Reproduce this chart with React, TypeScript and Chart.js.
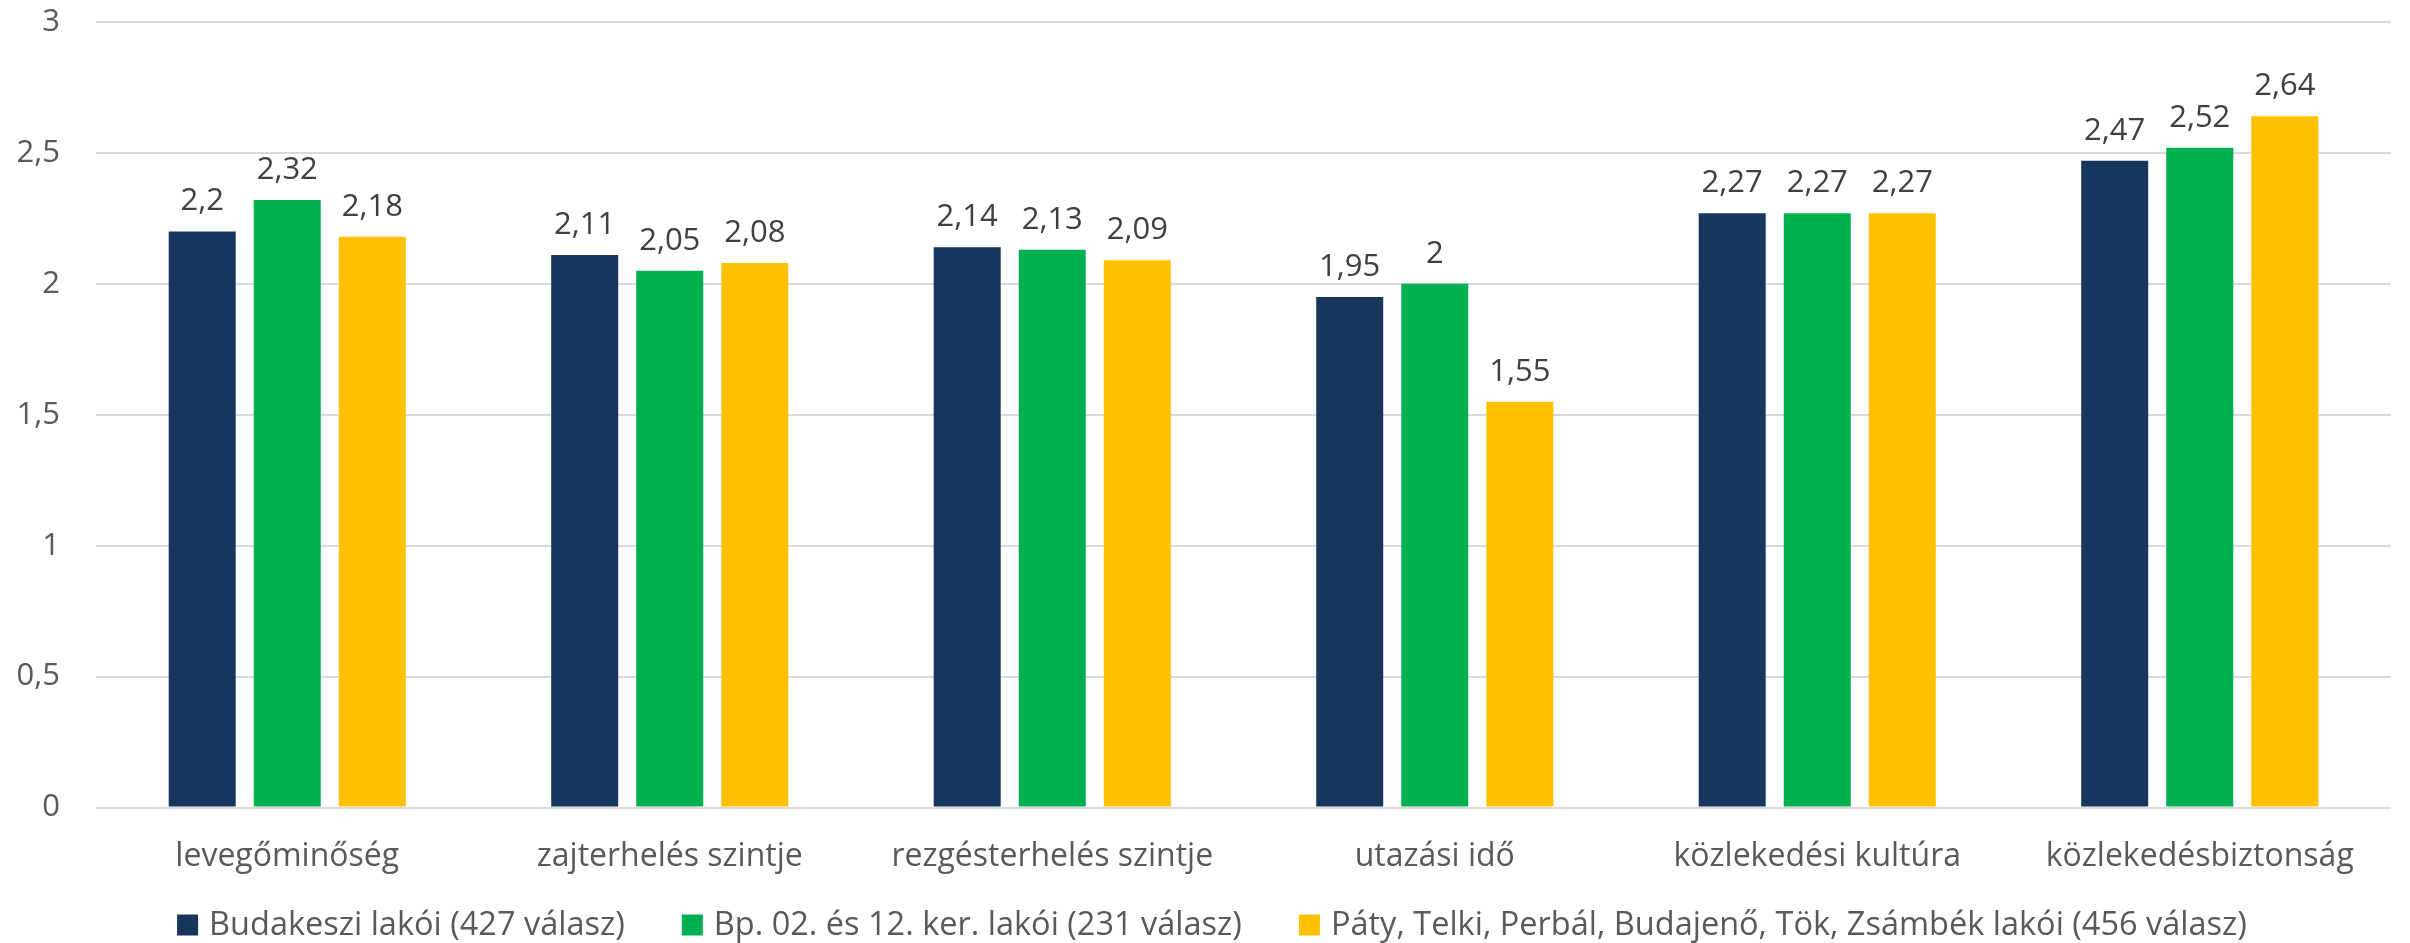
import React, { useEffect, useRef } from "react";
import { Chart, registerables } from "chart.js";

Chart.register(...registerables);

const categories = [
  "levegőminőség",
  "zajterhelés szintje",
  "rezgésterhelés szintje",
  "utazási idő",
  "közlekedési kultúra",
  "közlekedésbiztonság",
];
const seriesNames = [
  "Budakeszi lakói (427 válasz)",
  "Bp. 02. és 12. ker. lakói (231 válasz)",
  "Páty, Telki, Perbál, Budajenő, Tök, Zsámbék lakói (456 válasz)",
];
const budakeszi = [2.2, 2.11, 2.14, 1.95, 2.27, 2.47];
const budapest = [2.32, 2.05, 2.13, 2.0, 2.27, 2.52];
const agglomeracio = [2.18, 2.08, 2.09, 1.55, 2.27, 2.64];
const colors = ["#17365D", "#00B050", "#FFC000"];
const yTicks = [0, 0.5, 1, 1.5, 2, 2.5, 3];

const FONT = "'Open Sans', sans-serif";

const fmt = (v: number) => String(v).replace(".", ",");

const valueLabels = {
  id: "valueLabels",
  afterDatasetsDraw(chart: any) {
    const ctx = chart.ctx;
    ctx.save();
    ctx.font = `31px ${FONT}`;
    ctx.fillStyle = "#404040";
    ctx.textAlign = "center";
    ctx.textBaseline = "alphabetic";
    chart.data.datasets.forEach((ds: any, i: number) => {
      const meta = chart.getDatasetMeta(i);
      meta.data.forEach((bar: any, j: number) => {
        ctx.fillText(fmt(ds.data[j]), bar.x, bar.y - 21);
      });
    });
    ctx.restore();
  },
};

const customLegend = {
  id: "customLegend",
  afterDraw(chart: any) {
    const ctx = chart.ctx;
    ctx.save();
    ctx.font = `32.5px ${FONT}`;
    ctx.textBaseline = "middle";
    ctx.textAlign = "left";
    const box = 21;
    const boxGap = 11;
    const itemGap = 57;
    const widths = chart.data.datasets.map((ds: any) => ctx.measureText(ds.label).width);
    const total =
      widths.reduce((a: number, w: number) => a + w + box + boxGap, 0) + itemGap * (widths.length - 1);
    let x = chart.width / 2 + 7 - total / 2;
    const cy = chart.height - 18;
    chart.data.datasets.forEach((ds: any, i: number) => {
      ctx.fillStyle = ds.backgroundColor;
      ctx.fillRect(x, cy - box / 2, box, box);
      ctx.fillStyle = "#595959";
      ctx.fillText(ds.label, x + box + boxGap, cy + 1);
      x += box + boxGap + widths[i] + itemGap;
    });
    ctx.restore();
  },
};

export default function App() {
  const ref = useRef<HTMLCanvasElement>(null);
  useEffect(() => {
    if (!ref.current) return;
    const chart = new Chart(ref.current, {
      type: "bar",
      data: {
        labels: categories,
        datasets: [budakeszi, budapest, agglomeracio].map((d, i) => ({
          label: seriesNames[i],
          data: d,
          backgroundColor: colors[i],
          borderWidth: 0,
          categoryPercentage: 0.667,
          barPercentage: 0.788,
        })),
      },
      options: {
        responsive: false,
        animation: false,
        layout: { padding: { top: 22, right: 19, left: 0, bottom: 37 } },
        plugins: {
          tooltip: { enabled: false },
          legend: { display: false },
        },
        scales: {
          x: {
            grid: { display: false, drawTicks: false },
            border: { display: false },
            ticks: {
              color: "#595959",
              font: { family: FONT, size: 32 },
              padding: 30,
              maxRotation: 0,
            },
          },
          y: {
            min: 0,
            max: 3,
            afterBuildTicks: (s: any) => {
              s.ticks = yTicks.map((v) => ({ value: v }));
            },
            afterFit: (s: any) => {
              s.width = 96;
              s.paddingTop = 0;
              s.paddingBottom = 0;
            },
            grid: { color: "#D9D9D9", lineWidth: 2, drawTicks: false },
            border: { display: false },
            ticks: {
              color: "#595959",
              font: { family: FONT, size: 31 },
              padding: 36,
              callback: (v: any) => fmt(Number(v)),
            },
          },
        },
      },
      plugins: [valueLabels, customLegend],
    });
    return () => chart.destroy();
  }, []);
  return (
    <div style={{ position: "absolute", left: 0, top: 0, width: 2410, height: 943, background: "#fff" }}>
      <canvas ref={ref} width={2410} height={943} />
    </div>
  );
}
